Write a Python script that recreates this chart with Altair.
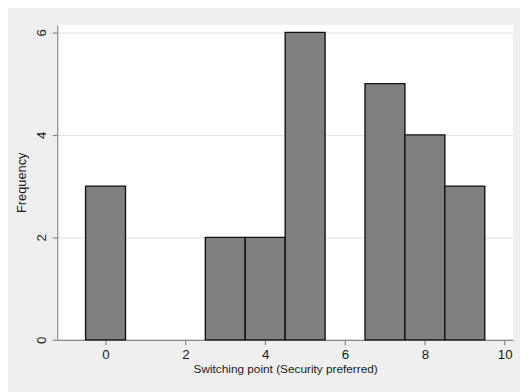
import altair as alt
import pandas as pd

# Data
switch_points = [0, 3, 4, 5, 7, 8, 9]
frequencies = [3, 2, 2, 6, 5, 4, 3]
x_ticks = [0, 2, 4, 6, 8, 10]
y_ticks = [0, 2, 4, 6]

df = pd.DataFrame({"point": switch_points, "freq": frequencies})

FONT = "Liberation Sans"

bars = (
    alt.Chart(df)
    .transform_calculate(lo="datum.point - 0.5", hi="datum.point + 0.5")
    .mark_bar(fill="#808080", stroke="#111111", strokeWidth=1.4)
    .encode(
        x=alt.X(
            "lo:Q",
            scale=alt.Scale(domain=[-1.21, 10.21], nice=False, zero=False),
            axis=alt.Axis(
                values=x_ticks,
                title="Switching point (Security preferred)",
                grid=False,
                labelFontSize=13.5,
                titleFontSize=12,
                labelPadding=3,
                titlePadding=3,
                tickSize=5,
            ),
        ),
        x2="hi:Q",
        y=alt.Y(
            "freq:Q",
            scale=alt.Scale(domain=[0, 6.15], nice=False),
            axis=alt.Axis(
                values=y_ticks,
                title="Frequency",
                grid=True,
                gridColor="#e6e6e6",
                gridWidth=1.2,
                labelAngle=270,
                labelAlign="center",
                labelBaseline="bottom",
                labelFontSize=13.5,
                titleFontSize=13,
                labelPadding=4,
                titlePadding=6,
                tickSize=5,
            ),
        ),
        y2=alt.datum(0),
    )
)

chart = (
    bars.properties(
        width=463,
        height=320,
        autosize=alt.AutoSizeParams(type="none"),
        padding={"left": 50, "top": 14, "right": 7, "bottom": 50},
        background="#efefef",
    )
    .configure_view(fill="white", strokeWidth=0)
    .configure_axis(
        domainColor="#8a8a8a",
        domainWidth=1.2,
        tickColor="#8a8a8a",
        tickWidth=1.2,
        labelColor="#1a1a1a",
        titleColor="#1a1a1a",
        labelFont=FONT,
        titleFont=FONT,
        titleFontWeight="normal",
    )
)

chart.save("out.html", embed_options={"renderer": "svg", "actions": False})
